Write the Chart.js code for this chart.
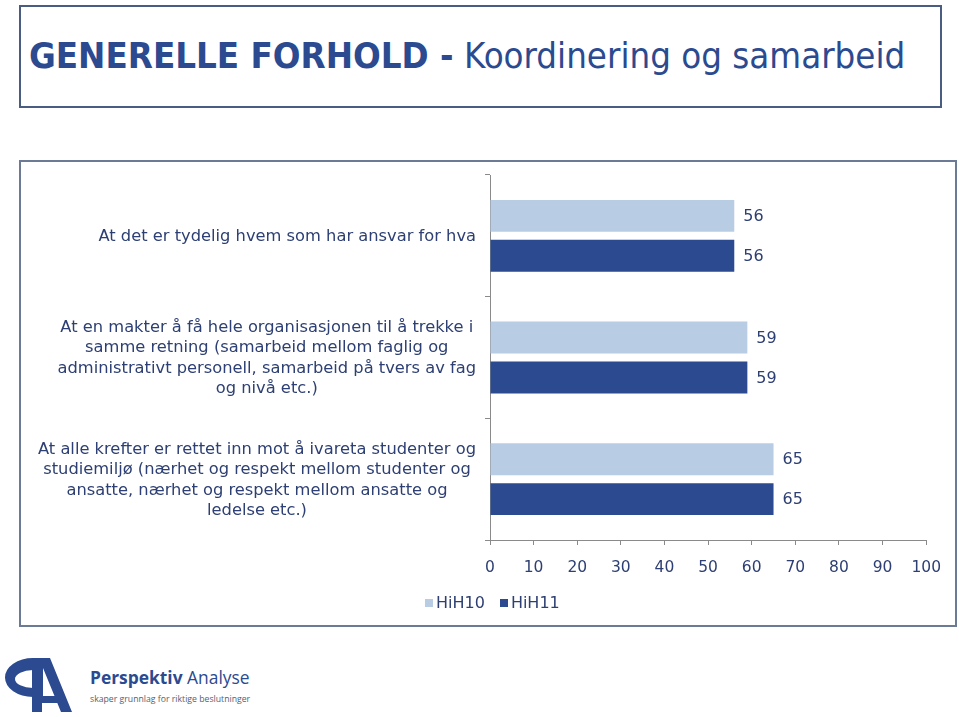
<!DOCTYPE html>
<html>
<head>
<meta charset="utf-8">
<script src="https://cdn.jsdelivr.net/npm/chart.js@4"></script>
<style>
  html, body { margin:0; padding:0; background:#fff; width:959px; height:717px; overflow:hidden; position:relative; }
  #titlebox { position:absolute; left:19px; top:5px; width:919px; height:99px; border:2px solid #4a5d80; box-sizing:content-box; }
  #title { position:absolute; left:8px; top:27px; white-space:nowrap; font-family:"DejaVu Sans Condensed","DejaVu Sans",sans-serif; font-size:36.3px; color:#2b4a8f; }
  #title b { font-weight:bold; }
  #chartbox { position:absolute; left:19px; top:160px; width:934px; height:463px; border:2px solid #6b7a95; }
  #chartbox canvas { display:block; }
  #legend { position:absolute; left:425px; top:594px; font-family:"DejaVu Sans",Verdana,sans-serif; font-size:16px; color:#2d3f73; white-space:nowrap; line-height:18px; }
  #legend span.sw { display:inline-block; width:8px; height:8px; margin-right:3px; vertical-align:1px; }
  #legend span.it { margin-right:15px; }
  #logo { position:absolute; left:0px; top:650px; width:80px; height:67px; }
  #brand { position:absolute; left:90px; top:666px; font-family:"Open Sans","DejaVu Sans",sans-serif; color:#2b4a8f; font-size:17.4px; white-space:nowrap; line-height:22px; }
  #brand b { font-weight:bold; }
  #tag { position:absolute; left:90px; top:693px; font-family:"Open Sans","DejaVu Sans",sans-serif; color:#555e70; font-size:8.7px; white-space:nowrap; }
</style>
</head>
<body>
<div id="titlebox"><div id="title"><b>GENERELLE FORHOLD -</b> Koordinering og samarbeid</div></div>
<div id="chartbox"><canvas id="c" width="934" height="463"></canvas></div>
<div id="legend"></div>
<svg id="logo" width="80" height="67" viewBox="0 0 80 67">
  <path d="M33,8 A28,19.5 0 0 0 33,47 L33,38 A18,9 0 0 1 33,20 Z" fill="#2b4a8f"/>
  <rect x="32" y="8" width="10" height="54" fill="#2b4a8f"/>
  <path fill-rule="evenodd" fill="#2b4a8f" d="M41,8 L50,8 L72,62 L61,62 L57.3,53 L41,53 Z M43,18 L43,46 L54.5,46 Z"/>
</svg>
<div id="brand"><b>Perspektiv</b> Analyse</div>
<div id="tag">skaper grunnlag for riktige beslutninger</div>
<script>
const categories = [
  ["At det er tydelig hvem som har ansvar for hva"],
  ["At en makter å få hele organisasjonen til å trekke i", "samme retning (samarbeid mellom faglig og", "administrativt personell, samarbeid på tvers av fag", "og nivå etc.)"],
  ["At alle krefter er rettet inn mot å ivareta studenter og", "studiemiljø (nærhet og respekt mellom studenter og", "ansatte, nærhet og respekt mellom ansatte og", "ledelse etc.)"]
];
const seriesNames = ["HiH10", "HiH11"];
const hih10 = [56, 59, 65];
const hih11 = [56, 59, 65];
const xTicks = [0, 10, 20, 30, 40, 50, 60, 70, 80, 90, 100];
const colors = ["#b8cce4", "#2b4a8f"];

const TEXT = "#2d3f73";
const FONT = "'DejaVu Sans', Verdana, sans-serif";

// HTML legend
const legendEl = document.getElementById("legend");
seriesNames.forEach((n, i) => {
  const it = document.createElement("span");
  it.className = "it";
  const sw = document.createElement("span");
  sw.className = "sw";
  sw.style.background = colors[i];
  it.appendChild(sw);
  it.appendChild(document.createTextNode(n));
  legendEl.appendChild(it);
});

const valueLabels = {
  id: "valueLabels",
  afterDatasetsDraw(chart) {
    const ctx = chart.ctx;
    ctx.save();
    ctx.font = "16px " + FONT;
    ctx.fillStyle = TEXT;
    ctx.textAlign = "left";
    ctx.textBaseline = "middle";
    chart.data.datasets.forEach((ds, i) => {
      chart.getDatasetMeta(i).data.forEach((bar, j) => {
        ctx.fillText(String(ds.data[j]), bar.x + 9, bar.y + 1);
      });
    });
    ctx.restore();
  }
};

const categoryLabels = {
  id: "categoryLabels",
  afterDraw(chart) {
    const ctx = chart.ctx;
    const ys = chart.scales.y;
    const right = ys.right - 14;
    const lh = 20.5;
    ctx.save();
    ctx.font = "16.3px " + FONT;
    ctx.fillStyle = TEXT;
    ctx.textAlign = "center";
    ctx.textBaseline = "middle";
    chart.data.labels.forEach((lines, i) => {
      const y = ys.getPixelForValue(i);
      const bw = Math.max(...lines.map(l => ctx.measureText(l).width));
      const cx = right - bw / 2;
      const y0 = y - (lines.length - 1) * lh / 2 + 1;
      lines.forEach((l, k) => ctx.fillText(l, cx, y0 + k * lh));
    });
    ctx.restore();
  }
};

new Chart(document.getElementById("c"), {
  type: "bar",
  data: {
    labels: categories,
    datasets: [
      { label: seriesNames[0], data: hih10, backgroundColor: colors[0], borderWidth: 0 },
      { label: seriesNames[1], data: hih11, backgroundColor: colors[1], borderWidth: 0 }
    ]
  },
  options: {
    indexAxis: "y",
    responsive: false,
    animation: false,
    categoryPercentage: 0.656,
    barPercentage: 0.8,
    layout: { padding: { top: 13, right: 28, bottom: 45, left: 0 } },
    plugins: {
      legend: { display: false },
      tooltip: { enabled: false }
    },
    scales: {
      x: {
        min: 0, max: 100,
        afterBuildTicks(scale) { scale.ticks = xTicks.map(v => ({ value: v })); },
        grid: { drawOnChartArea: false, drawTicks: true, tickLength: 5, color: "#8a8a8a" },
        border: { color: "#8a8a8a", width: 1 },
        ticks: { color: TEXT, font: { family: FONT, size: 15.5 }, padding: 14, maxRotation: 0 },
        afterFit(scale) { scale.height = 40; }
      },
      y: {
        grid: { drawOnChartArea: false, drawTicks: true, tickLength: 5, color: "#8a8a8a", offset: true },
        border: { color: "#8a8a8a", width: 1 },
        ticks: { display: false },
        afterFit(scale) { scale.width = 469; scale.paddingTop = 0; scale.paddingBottom = 0; }
      }
    }
  },
  plugins: [valueLabels, categoryLabels]
});
</script>
</body>
</html>
